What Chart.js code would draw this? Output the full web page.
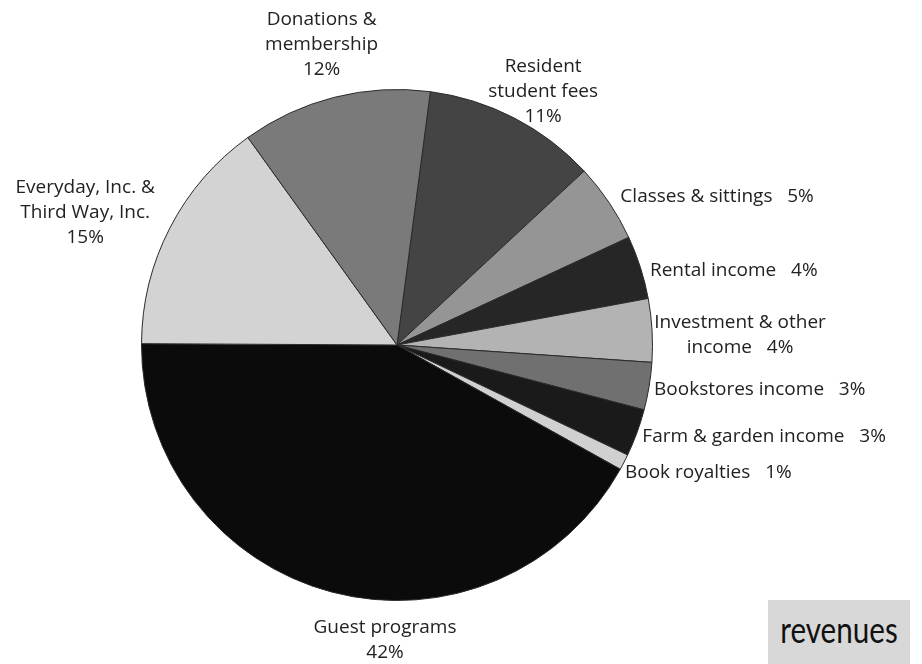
<!DOCTYPE html>
<html>
<head>
<meta charset="utf-8">
<script src="https://cdn.jsdelivr.net/npm/chart.js@4/dist/chart.umd.min.js"></script>
<style>
  body { margin: 0; background: #fff; }
  #wrap { position: relative; width: 922px; height: 664px; }
  #tag {
    position: absolute; left: 768px; top: 600px; width: 142px; height: 64px;
    background: #d8d8d8; color: #111; overflow: hidden;
  }
  #tag span {
    position: absolute; left: 50%; top: 0; white-space: nowrap;
    font-family: Lato, sans-serif; font-size: 37px; line-height: 58px;
    transform: translateX(-50%) scaleX(0.8);
  }
</style>
</head>
<body>
<div id="wrap">
  <canvas id="pieChart" width="922" height="664"></canvas>
  <div id="tag"><span>revenues</span></div>
</div>
<script>
// slices, clockwise starting just right of 12 o'clock
const categories = [
  'Resident\nstudent fees',
  'Classes & sittings',
  'Rental income',
  'Investment & other\nincome',
  'Bookstores income',
  'Farm & garden income',
  'Book royalties',
  'Guest programs',
  'Everyday, Inc. &\nThird Way, Inc.',
  'Donations &\nmembership'
];
const percents = [11, 5, 4, 4, 3, 3, 1, 42, 15, 12];
const sliceColors = ['#444444', '#959595', '#262626', '#b3b3b3', '#707070',
                     '#1a1a1a', '#d0d0d0', '#0b0b0b', '#d3d3d3', '#7a7a7a'];

// label placement: extra distance past the rim, nudges, alignment, % on its own line
const labelLayout = [
  { extra: 26, dx: 17,  dy: -3, align: 'center', stack: true },
  { extra: 10, dx: 3,   dy: 0,  align: 'left',   stack: false },
  { extra: 10, dx: 0,   dy: 6,  align: 'left',   stack: false },
  { extra: 10, dx: 78,  dy: 5,  align: 'center', stack: false },
  { extra: 10, dx: -5,  dy: 2,  align: 'left',   stack: false },
  { extra: 10, dx: -4,  dy: 0,  align: 'left',   stack: false },
  { extra: 10, dx: -8,  dy: 6,  align: 'left',   stack: false },
  { extra: 40, dx: 63,  dy: 9,  align: 'center', stack: true },
  { extra: 83, dx: -11, dy: 23, align: 'center', stack: true },
  { extra: 54, dx: 0,   dy: 0,  align: 'center', stack: true }
];

const outsideLabels = {
  id: 'outsideLabels',
  afterDraw(chart) {
    const ctx = chart.ctx;
    const arcs = chart.getDatasetMeta(0).data;
    ctx.save();
    ctx.font = '19px "Open Sans", sans-serif';
    ctx.fillStyle = '#222';
    ctx.textBaseline = 'middle';
    arcs.forEach((arc, i) => {
      const p = arc.getProps(['x', 'y', 'startAngle', 'endAngle', 'outerRadius'], true);
      const lay = labelLayout[i];
      const mid = (p.startAngle + p.endAngle) / 2;
      const r = p.outerRadius + lay.extra;
      const px = p.x + Math.cos(mid) * r + lay.dx;
      const py = p.y + Math.sin(mid) * r + lay.dy;
      const text = categories[i] + (lay.stack ? '\n' : '   ') + percents[i] + '%';
      const lines = text.split('\n');
      const lh = 25;
      ctx.textAlign = lay.align;
      lines.forEach((line, k) => {
        ctx.fillText(line, px, py + (k - (lines.length - 1) / 2) * lh);
      });
    });
    ctx.restore();
  }
};

new Chart(document.getElementById('pieChart'), {
  type: 'pie',
  data: {
    labels: categories,
    datasets: [{
      data: percents,
      backgroundColor: sliceColors,
      borderColor: '#2a2a2a',
      borderWidth: 1
    }]
  },
  options: {
    responsive: false,
    animation: false,
    rotation: 7.5,
    layout: { padding: { left: 141, right: 269, top: 89, bottom: 63 } },
    plugins: { legend: { display: false }, tooltip: { enabled: false } }
  },
  plugins: [outsideLabels]
});
</script>
</body>
</html>
